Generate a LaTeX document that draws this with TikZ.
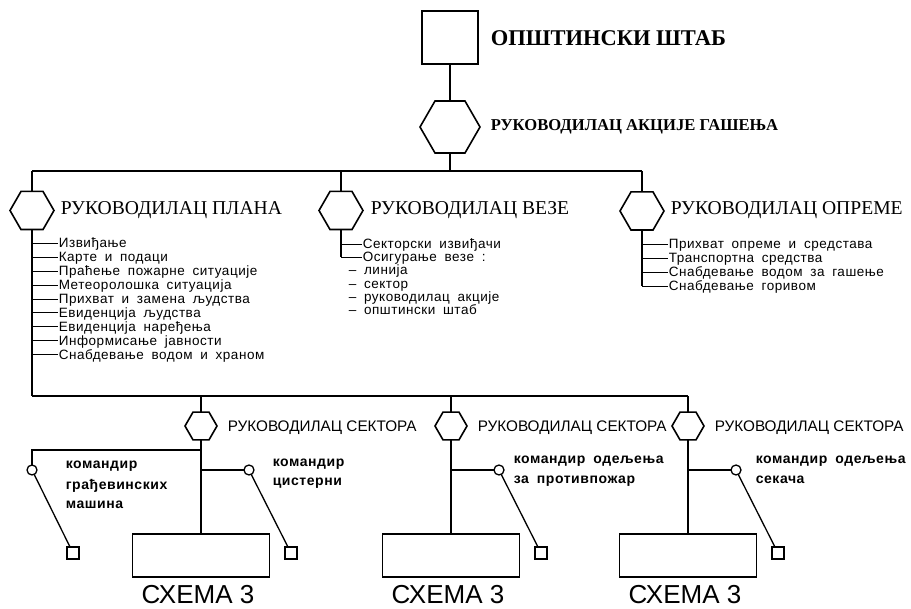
\documentclass[tikz,border=0pt]{standalone}
\usepackage{fontspec}
\setmainfont{Liberation Serif}
\setsansfont{Liberation Sans}
\newfontfamily\listfont{Liberation Sans}[LetterSpace=4, WordSpace=1.8]
\usetikzlibrary{positioning, calc, shapes.geometric}

\begin{document}
\begin{tikzpicture}[x=1pt, y=-1pt, line width=1.6pt,
    hexa/.style={draw, shape=regular polygon, regular polygon sides=6,
      inner sep=0pt, outer sep=0pt},
    chief/.style={anchor=west, inner sep=0pt, font=\fontsize{19.6}{22}\selectfont},
    item/.style={anchor=west, inner sep=0pt, text height=9pt, text depth=0pt,
      font=\listfont\fontsize{13.5}{15}\selectfont},
    tick/.style={line width=0.8pt},
    sector/.style={anchor=west, inner sep=0pt, text height=11pt, text depth=0pt,
      font=\sffamily\fontsize{15.3}{17}\selectfont},
    cmd/.style={anchor=base west, inner sep=0pt, align=left,
      font=\listfont\bfseries\fontsize{14}{20}\selectfont},
    unit/.style={draw, minimum width=137pt, minimum height=43pt, inner sep=0pt, outer sep=0pt},
    post/.style={draw, circle, line width=1.3pt, minimum size=10pt, inner sep=0pt, outer sep=0pt},
    spot/.style={draw, line width=1.3pt, minimum size=12pt, inner sep=0pt, outer sep=0pt}]
  \useasboundingbox (0,0) rectangle (911,609);

  % shtab and action leader
  \node[draw, minimum width=56pt, minimum height=53pt, inner sep=0pt, outer sep=0pt] (stab) at (450,37.5) {};
  \node[anchor=west, inner sep=0pt, font=\bfseries\fontsize{22.5}{24}\selectfont] (stablbl) at (490,38) {ОПШТИНСКИ ШТАБ};
  \node[hexa, minimum size=60pt] (akc) at (450,127) {};
  \node[anchor=west, inner sep=0pt, font=\bfseries\fontsize{16.6}{18}\selectfont] (akclbl) at (490,127) {РУКОВОДИЛАЦ АКЦИЈЕ ГАШЕЊА};
  \draw (stab) -- (akc);

  \coordinate (barL) at (32,171);
  \coordinate (barR) at (642,171);
  \coordinate (botL) at (32,396);
  \coordinate (botR) at (688,396);
  \draw (akc.south) -- (akc.south |- barL);
  \draw (barL) -- (barR);

  % plan
  \node[hexa, minimum size=44pt] (plan) at (32,210.5) {};
  \node[chief] (planlbl) at (60,210) {РУКОВОДИЛАЦ ПЛАНА};
  \draw (barL) -- (plan.north);
  \draw (plan.south) -- (botL);
  \foreach \t [count=\i] in {Извиђање, Карте и подаци, Праћење пожарне ситуације,
      Метеоролошка ситуација, Прихват и замена људства, Евиденција људства,
      Евиденција наређења, Информисање јавности, Снабдевање водом и храном} {
    \node[item] (plan\i) at (58, 229.5+13.9*\i) {\t};
    \draw[tick] (plan\i.west -| barL) -- (plan\i.west);
  }

  % veze
  \node[hexa, minimum size=44pt] (veze) at (341,210.5) {};
  \node[chief] (vezelbl) at (370,210) {РУКОВОДИЛАЦ ВЕЗЕ};
  \draw (veze.north) -- (veze.north |- barL);
  \node[item] (veze1) at (362,244) {Секторски извиђачи};
  \node[item] (veze2) at (362,257) {Осигурање везе :};
  \draw (veze.south) -- (veze.south |- veze2.west);
  \foreach \i in {1,2}
    \draw[tick] (veze\i.west -| veze) -- (veze\i.west);
  \foreach \t [count=\i] in {линија, сектор, руководилац акције, општински штаб}
    \node[item] (vezesub\i) at (348, 257+13.3*\i) {– \t};

  % oprema
  \node[hexa, minimum size=44pt] (opr) at (642,211) {};
  \node[chief] (oprlbl) at (670,210) {РУКОВОДИЛАЦ ОПРЕМЕ};
  \draw (opr.north) -- (barR);
  \foreach \t [count=\i] in {Прихват опреме и средстава, Транспортна средства,
      Снабдевање водом за гашење, Снабдевање горивом} {
    \node[item] (opr\i) at (668, 230+14*\i) {\t};
    \draw[tick] (opr\i.west -| opr) -- (opr\i.west);
  }
  \draw (opr.south) -- (opr.south |- opr4.west);

  % sectors
  \draw (botL) -- (botR);
  \foreach \n/\sx/\lx/\ly/\txt in {1/201/272/486/{командир\\цистерни},
      2/451/513/484/{командир одељења\\за противпожар},
      3/688/755/484/{командир одељења\\секача}} {
    \node[hexa, minimum size=32pt] (sec\n) at (\sx,426) {};
    \node[sector] (seclbl\n) at (\sx+26,426) {РУКОВОДИЛАЦ СЕКТОРА};
    \draw (sec\n.north) -- (sec\n.north |- botL);
    \node[unit] (unit\n) at (\sx,555.5) {};
    \node[font=\sffamily\fontsize{26}{28}\selectfont, inner sep=0pt] (schema\n) at (\sx-3,595) {СХЕМА 3};
    \draw (sec\n.south) -- (unit\n.north -| sec\n);
    \node[post] (post\n) at (\sx+48,470) {};
    \node[spot] (spot\n) at (\sx+90,553) {};
    \draw (post\n.west) -- (post\n.west -| sec\n);
    \draw[line width=1.3pt] (post\n) -- (spot\n);
    \node[cmd] (cmd\n) at (\lx,\ly) {\txt};
  }

  % left commander of sector 1
  \coordinate (bend) at (32,450);
  \node[post] (postL) at (32,470) {};
  \node[spot] (spotL) at (73,553) {};
  \draw (bend -| sec1) -- (bend) -- (postL.north);
  \draw[line width=1.3pt] (postL) -- (spotL);
  \node[cmd] (cmdL) at (65,509) {командир\\грађевинских\\машина};
\end{tikzpicture}
\end{document}
